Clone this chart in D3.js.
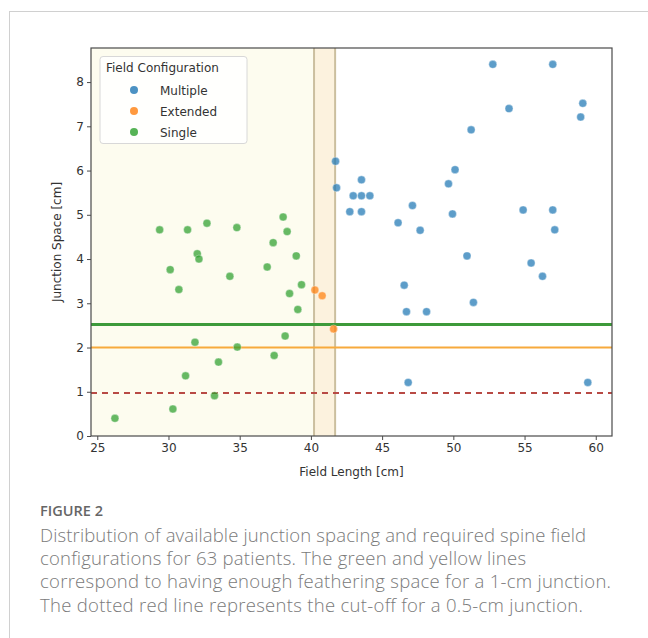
<!DOCTYPE html>
<html>
<head>
<meta charset="utf-8">
<script src="https://cdn.jsdelivr.net/npm/d3@7"></script>
<style>
  body { margin: 0; background: #fff; }
  svg { display: block; }
</style>
</head>
<body>
<svg id="chart" width="648" height="638"></svg>
<script>
// data
const singleX = [29.38, 31.34, 32.70, 34.80, 37.35, 38.05, 38.33, 32.02, 32.14, 30.12, 30.73, 34.31, 36.93,
  38.97, 38.50, 39.34, 39.08, 38.19, 37.42, 34.83, 31.86, 33.51, 31.20, 33.23, 30.31, 26.24];
const singleY = [4.66, 4.66, 4.81, 4.71, 4.37, 4.95, 4.62, 4.12, 4.00, 3.76, 3.31, 3.61, 3.82,
  4.07, 3.22, 3.42, 2.86, 2.26, 1.82, 2.01, 2.12, 1.67, 1.36, 0.91, 0.61, 0.40];
const extendedX = [40.28, 40.79, 41.59];
const extendedY = [3.30, 3.17, 2.42];
const multipleX = [52.77, 56.98, 59.09, 58.94, 53.91, 51.25, 41.73, 41.80, 43.55, 42.97, 43.55, 44.14,
  42.73, 43.55, 50.12, 49.66, 49.94, 47.13, 46.12, 47.67, 54.90, 56.98, 57.12, 50.96, 55.46, 56.26,
  46.55, 51.41, 46.71, 48.12, 46.83, 59.44];
const multipleY = [8.40, 8.40, 7.52, 7.21, 7.40, 6.92, 6.21, 5.61, 5.79, 5.43, 5.43, 5.43,
  5.07, 5.07, 6.02, 5.70, 5.02, 5.21, 4.82, 4.65, 5.11, 5.11, 4.66, 4.07, 3.91, 3.61,
  3.41, 3.02, 2.81, 2.81, 1.21, 1.21];

const xTicks = [25, 30, 35, 40, 45, 50, 55, 60];
const yTicks = [0, 1, 2, 3, 4, 5, 6, 7, 8];
const bandStart = 40.22, bandEnd = 41.70;
const greenLine = 2.52, orangeLine = 2.0, redLine = 0.97;

const groups = [
  { name: 'Multiple', xs: multipleX, ys: multipleY, color: '#1f77b4' },
  { name: 'Extended', xs: extendedX, ys: extendedY, color: '#ff7f0e' },
  { name: 'Single', xs: singleX, ys: singleY, color: '#2ca02c' }
];

const captionLines = [
  'Distribution of available junction spacing and required spine field',
  'configurations for 63 patients. The green and yellow lines',
  'correspond to having enough feathering space for a 1-cm junction.',
  'The dotted red line represents the cut-off for a 0.5-cm junction.'
];
const captionEnds = [586, 526, 611, 583];

const svg = d3.select('#chart');

// outer frame of the figure panel
svg.append('rect')
  .attr('x', 9.5).attr('y', 11.5)
  .attr('width', 700).attr('height', 700)
  .attr('fill', 'none')
  .attr('stroke', '#d0d0d0');

const margin = { left: 91, top: 48, right: 612, bottom: 436 };

const x = d3.scaleLinear().domain([24.56, 61.14]).range([margin.left, margin.right]);
const y = d3.scaleLinear().domain([0, 8.77]).range([margin.bottom, margin.top]);

const g = svg.append('g');

// background regions
g.append('rect')
  .attr('x', x(24.56)).attr('y', margin.top)
  .attr('width', x(bandStart) - x(24.56)).attr('height', margin.bottom - margin.top)
  .attr('fill', '#fdfcef');
g.append('rect')
  .attr('x', x(bandStart)).attr('y', margin.top)
  .attr('width', x(bandEnd) - x(bandStart)).attr('height', margin.bottom - margin.top)
  .attr('fill', '#fcf2de');
[bandStart, bandEnd].forEach(v => {
  g.append('line')
    .attr('x1', x(v)).attr('x2', x(v))
    .attr('y1', margin.top).attr('y2', margin.bottom)
    .attr('stroke', '#cbbf9f').attr('stroke-width', 2);
});

// reference lines
g.append('line')
  .attr('x1', margin.left).attr('x2', margin.right)
  .attr('y1', y(greenLine)).attr('y2', y(greenLine))
  .attr('stroke', '#3d9a3a').attr('stroke-width', 3);
g.append('line')
  .attr('x1', margin.left).attr('x2', margin.right)
  .attr('y1', y(orangeLine)).attr('y2', y(orangeLine))
  .attr('stroke', '#f7aa3c').attr('stroke-width', 2);
g.append('line')
  .attr('x1', margin.left).attr('x2', margin.right)
  .attr('y1', y(redLine)).attr('y2', y(redLine))
  .attr('stroke', '#b84a45').attr('stroke-width', 2)
  .attr('stroke-dasharray', '6,5');

// points
groups.forEach(grp => {
  g.append('g').selectAll('circle')
    .data(grp.xs.map((v, i) => [v, grp.ys[i]]))
    .join('circle')
    .attr('cx', d => x(d[0]))
    .attr('cy', d => y(d[1]))
    .attr('r', 4)
    .attr('fill', grp.color)
    .attr('fill-opacity', 0.72)
    .attr('stroke', '#fff')
    .attr('stroke-opacity', 0.6)
    .attr('stroke-width', 0.6);
});

// frame
g.append('rect')
  .attr('x', margin.left).attr('y', margin.top)
  .attr('width', margin.right - margin.left).attr('height', margin.bottom - margin.top)
  .attr('fill', 'none').attr('stroke', '#4a4a4a').attr('stroke-width', 1.2);

// axes
const xAxis = svg.append('g')
  .attr('transform', `translate(0,${margin.bottom})`)
  .call(d3.axisBottom(x).tickValues(xTicks).tickSize(4).tickPadding(3));
const yAxis = svg.append('g')
  .attr('transform', `translate(${margin.left},0)`)
  .call(d3.axisLeft(y).tickValues(yTicks).tickSize(4).tickPadding(3));
[xAxis, yAxis].forEach(a => {
  a.select('.domain').remove();
  a.selectAll('line').attr('stroke', '#4a4a4a');
  a.selectAll('text')
    .attr('fill', '#333')
    .style('font-family', 'DejaVu Sans')
    .style('font-size', '12px');
});

svg.append('text')
  .attr('x', (margin.left + margin.right) / 2)
  .attr('y', 476)
  .attr('text-anchor', 'middle')
  .attr('fill', '#333')
  .style('font-family', 'DejaVu Sans')
  .style('font-size', '12px')
  .text('Field Length [cm]');

svg.append('text')
  .attr('transform', `translate(61,${(margin.top + margin.bottom) / 2}) rotate(-90)`)
  .attr('text-anchor', 'middle')
  .attr('fill', '#333')
  .style('font-family', 'DejaVu Sans')
  .style('font-size', '12px')
  .text('Junction Space [cm]');

// legend
const lg = svg.append('g');
lg.append('rect')
  .attr('x', 100).attr('y', 56.5).attr('width', 147).attr('height', 87)
  .attr('rx', 3)
  .attr('fill', '#fff').attr('fill-opacity', 0.85)
  .attr('stroke', '#d8d8d8');
lg.append('text')
  .attr('x', 106).attr('y', 71.5)
  .attr('fill', '#333')
  .style('font-family', 'DejaVu Sans')
  .style('font-size', '12px')
  .text('Field Configuration');
groups.forEach((grp, i) => {
  const cy = 90 + i * 21;
  lg.append('circle')
    .attr('cx', 134).attr('cy', cy).attr('r', 4)
    .attr('fill', grp.color).attr('fill-opacity', 0.8);
  lg.append('text')
    .attr('x', 160).attr('y', cy + 4.5)
    .attr('fill', '#333')
    .style('font-family', 'DejaVu Sans')
    .style('font-size', '12px')
    .text(grp.name);
});

// caption
const capX = 40;
svg.append('text')
  .attr('x', capX).attr('y', 515.5)
  .attr('fill', '#666')
  .attr('textLength', 63)
  .style('font-family', 'Open Sans')
  .style('font-weight', 600)
  .style('font-size', '14.5px')
  .text('FIGURE 2');
svg.append('g').selectAll('text')
  .data(captionLines)
  .join('text')
  .attr('x', capX)
  .attr('y', (d, i) => 541.5 + i * 23.4)
  .attr('textLength', (d, i) => captionEnds[i] - capX)
  .attr('lengthAdjust', 'spacing')
  .attr('fill', '#7a7a7a')
  .style('font-family', 'Open Sans')
  .style('font-weight', 300)
  .style('font-size', '18.5px')
  .text(d => d);
</script>
</body>
</html>
